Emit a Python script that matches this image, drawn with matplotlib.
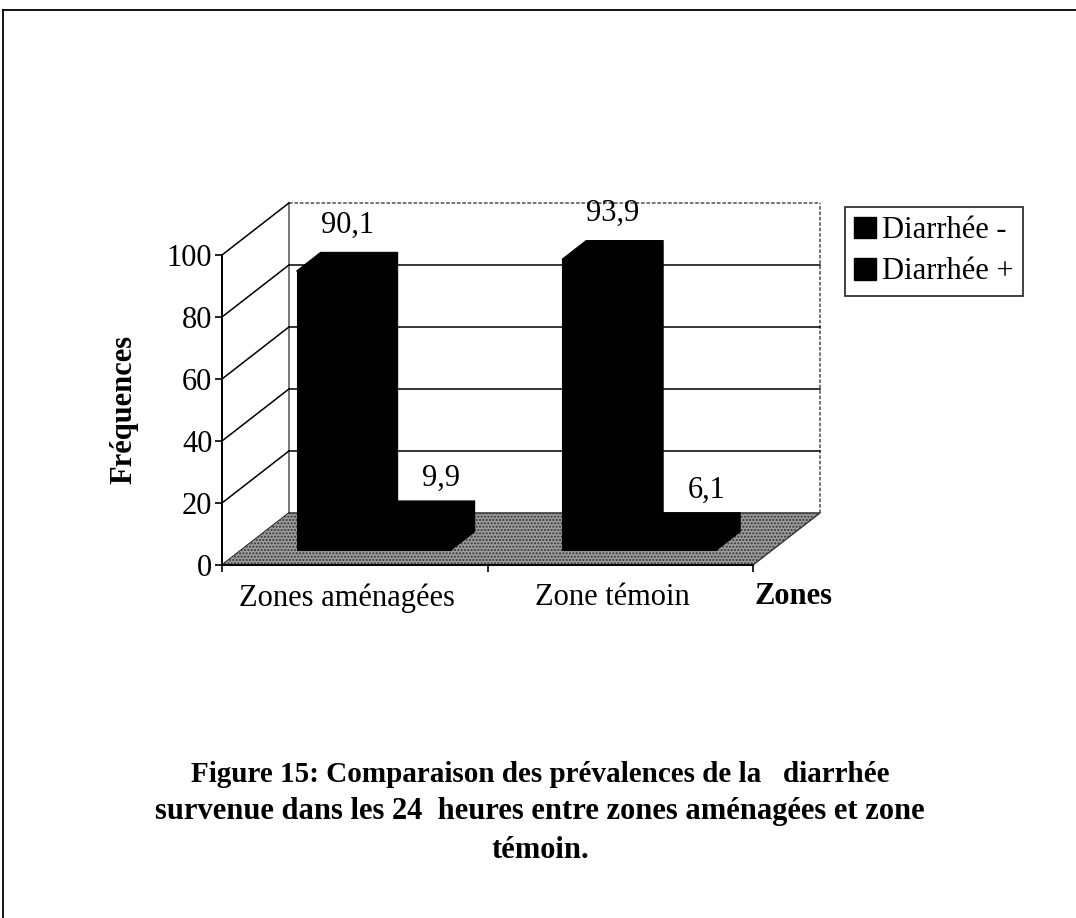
import matplotlib
matplotlib.use("Agg")
import matplotlib.pyplot as plt
import matplotlib.transforms as mtransforms
from matplotlib.patches import Polygon, Patch
from matplotlib.lines import Line2D

# ---- data ----
categories = ["Zones aménagées", "Zone témoin"]
series_names = ["Diarrhée -", "Diarrhée +"]
diarrhee_moins = [90.1, 93.9]
diarrhee_plus = [9.9, 6.1]
y_ticks = [0, 20, 40, 60, 80, 100]
caption_lines = [
    "Figure 15: Comparaison des prévalences de la   diarrhée",
    "survenue dans les 24  heures entre zones aménagées et zone",
    "témoin.",
]

plt.rcParams['font.family'] = ['Liberation Serif', 'DejaVu Serif']
FS = 22

W, H = 1076, 918
fig = plt.figure(figsize=(W / 100, H / 100), dpi=100)

# oblique depth offset (in data units)
DX = 0.2524   # category units
DY = 16.8     # value units
YMAX = 100
ncat = len(categories)

# axes: front plane x 0..ncat maps px 222..753 ; y 0..100 maps px 565..255
px_per_cat = (753 - 222) / ncat
px_per_val = (565 - 255) / 100
ax_w = (ncat + DX) * px_per_cat
ax_h = (YMAX + DY) * px_per_val
ax = fig.add_axes([222 / W, (H - 565) / H, ax_w / W, ax_h / H])
ax.set_xlim(0, ncat + DX)
ax.set_ylim(0, YMAX + DY)
ax.patch.set_alpha(0)

# walls
back = Polygon([(DX, DY), (ncat + DX, DY), (ncat + DX, YMAX + DY), (DX, YMAX + DY)],
               closed=True, facecolor='white', edgecolor='none', zorder=0)
ax.add_patch(back)
ax.plot([DX, ncat + DX], [YMAX + DY, YMAX + DY], color='#6a6a6a', lw=1.3, ls=(0, (2, 1)), zorder=1, clip_on=False)
ax.plot([ncat + DX, ncat + DX], [DY, YMAX + DY], color='#6a6a6a', lw=1.3, ls=(0, (2, 1)), zorder=1, clip_on=False)
ax.plot([DX, DX], [DY, YMAX + DY], color='#555555', lw=1.1, zorder=1, clip_on=False)

# gridlines on back wall + diagonals on left wall
for v in y_ticks:
    if 0 < v < YMAX:
        ax.plot([DX, ncat + DX], [v + DY, v + DY], color='black', lw=1.1, zorder=1, clip_on=False)
    ax.plot([0, DX], [v, v + DY], color='black', lw=1.1, zorder=1, clip_on=False)

# floor
floor = Polygon([(0, 0), (ncat, 0), (ncat + DX, DY), (DX, DY)], closed=True,
                facecolor='#9c9c9c', edgecolor='#333333', hatch='.....', lw=0, zorder=2)
ax.add_patch(floor)
ax.plot([ncat, ncat + DX, DX], [0, DY, DY], color='#333333', lw=1.0, zorder=2, clip_on=False)

# bars (pseudo 3D)
bw = 0.29
d0, d1 = 0.28, 0.64
b0 = d0 * DY
dd = d1 - d0
series = [diarrhee_moins, diarrhee_plus]
label_offsets = [(0, 9), (12, 6)]
for i in range(ncat):
    c = i + 0.5
    for j, vals in enumerate(series):
        v = vals[i]
        xl = c - bw + j * bw + d0 * DX
        xr = xl + bw
        ax.bar(xl, v, width=bw, bottom=b0, align='edge', color='black',
               edgecolor='black', lw=0.8, zorder=3 + j)
        top = Polygon([(xl, v + b0), (xr, v + b0), (xr + dd * DX, v + b0 + dd * DY),
                       (xl + dd * DX, v + b0 + dd * DY)], closed=True,
                      facecolor='black', edgecolor='black', lw=0.8, zorder=3 + j)
        side = Polygon([(xr, b0), (xr, v + b0), (xr + dd * DX, v + b0 + dd * DY),
                        (xr + dd * DX, b0 + dd * DY)], closed=True,
                       facecolor='black', edgecolor='black', lw=0.8, zorder=3 + j)
        ax.add_patch(top)
        ax.add_patch(side)
        lbl = f"{v:.1f}".replace('.', ',')
        ax.annotate(lbl, xy=((xl + xr) / 2 + dd * DX / 2, v + b0 + dd * DY),
                    xytext=label_offsets[j], textcoords='offset points', ha='center', va='bottom',
                    fontsize=FS, color='black', zorder=6, annotation_clip=False)

# axes styling
for s in ['top', 'right']:
    ax.spines[s].set_visible(False)
ax.spines['left'].set_bounds(0, YMAX)
ax.spines['bottom'].set_bounds(0, ncat)
ax.spines['left'].set_linewidth(1.4)
ax.spines['bottom'].set_linewidth(1.4)
ax.spines['left'].set_zorder(5)
ax.spines['bottom'].set_zorder(5)
ax.set_yticks(y_ticks)
ax.tick_params(axis='y', direction='out', length=5, width=1.2, labelsize=FS, pad=2)
ax.set_xticks(range(ncat + 1))
ax.set_xticklabels([])
ax.tick_params(axis='x', which='major', direction='out', length=5, width=1.2)
ax.set_xticks([i + 0.5 for i in range(ncat)], minor=True)
ax.set_xticklabels(categories, minor=True)
ax.tick_params(axis='x', which='minor', length=0, labelsize=FS, pad=13)
shift = mtransforms.ScaledTranslation(-8 / 100, 0, fig.dpi_scale_trans)
for t in ax.get_xticklabels(minor=True):
    t.set_transform(t.get_transform() + shift)

ax.set_ylabel("Fréquences", fontsize=FS, fontweight='bold')
ax.yaxis.set_label_coords(-0.14, 0.43)

fig.text(793 / W, 1 - 597 / H, "Zones", fontsize=FS, fontweight='bold', ha='center', va='center')

# legend
handles = [Patch(facecolor='black', edgecolor='black') for _ in series_names]
leg = fig.legend(handles, series_names, loc='upper left',
                 bbox_to_anchor=(845 / W, 1 - 207 / H), frameon=True, fancybox=False,
                 fontsize=FS, handlelength=0.72, handleheight=0.72, handletextpad=0.2,
                 labelspacing=0.4, borderpad=0.3, borderaxespad=0)
leg.get_frame().set_edgecolor('black')
leg.get_frame().set_linewidth(1.3)

# caption
caption_sizes = [21, FS, FS]
for k, line in enumerate(caption_lines):
    fig.text(540 / W, 1 - (774 + 38 * k) / H, line, fontsize=caption_sizes[k], fontweight='bold',
             ha='center', va='center')

# page border
fig.add_artist(Line2D([3 / W, 1], [1 - 10 / H, 1 - 10 / H], transform=fig.transFigure,
                      color='black', lw=1.3))
fig.add_artist(Line2D([3 / W, 3 / W], [0, 1 - 10 / H], transform=fig.transFigure,
                      color='black', lw=1.3))

fig.savefig("out.png", dpi=100)
